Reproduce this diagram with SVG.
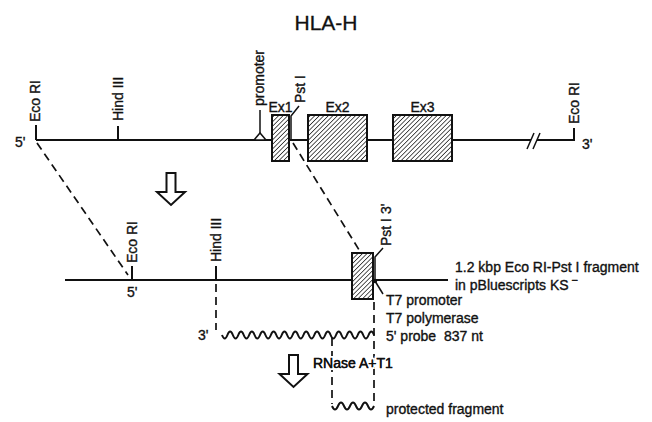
<svg xmlns="http://www.w3.org/2000/svg" width="652" height="422" viewBox="0 0 652 422">
<style>
text{font-family:"Liberation Sans",Arial,sans-serif;font-size:14px;fill:#111;stroke:#111;stroke-width:0.35}
.ln{fill:none;stroke:#111;stroke-width:2}
.thin{fill:none;stroke:#111;stroke-width:1.5}
.dash{fill:none;stroke:#111;stroke-width:1.7;stroke-dasharray:8 5}
.box{fill:url(#hatch);stroke:#111;stroke-width:2}
.arrow{fill:#fff;stroke:#111;stroke-width:2;stroke-linejoin:miter}
.wave{fill:none;stroke:#111;stroke-width:2}
.knock{paint-order:stroke;stroke:#fff;stroke-width:4}
</style>
<defs>
<pattern id="hatch" patternUnits="userSpaceOnUse" width="3.2" height="3.2" patternTransform="rotate(45)">
<rect width="3.2" height="3.2" fill="#fff"/>
<line x1="0" y1="0" x2="0" y2="3.2" stroke="#111" stroke-width="1.4"/>
</pattern>
<polygon id="downArrow" class="arrow" points="-4.5,0 4.5,0 4.5,19 14,19 0,32 -14,19 -4.5,19"/>
</defs>
<rect width="652" height="422" fill="#fff"/>

<text x="326" y="30" text-anchor="middle" style="font-size:21px;stroke-width:0.3">HLA-H</text>

<g id="connectors">
<path class="dash" d="M37,143 L128,275"/>
<path class="dash" d="M293,143 L361,253"/>
<path class="dash" d="M216,284 V330"/>
<path class="dash" d="M374,302 V405"/>
<path class="dash" d="M332,338 V404"/>
</g>

<g id="genomic">
<path class="ln" d="M36,140 H531 M537,140 H574 V128"/>
<path class="thin" d="M527,149 L534,133 M533,149 L540,133"/>
<path class="ln" d="M36,140 V125"/>
<path class="ln" d="M118,140 V126"/>
<path class="thin" d="M260,133 V110"/>
<polygon points="254,140 260,133 266,140" fill="#fff" stroke="#111" stroke-width="1.5"/>
<path class="thin" d="M291,140 V116 L299,106"/>
<text transform="translate(40,122) rotate(-90)">Eco RI</text>
<text transform="translate(123,121) rotate(-90)">Hind III</text>
<text transform="translate(264,106) rotate(-90)">promoter</text>
<text transform="translate(305,103) rotate(-90)">Pst I</text>
<text transform="translate(579,124) rotate(-90)">Eco RI</text>
<text x="15" y="147">5'</text>
<text x="582" y="149">3'</text>
</g>

<g id="ex1">
<rect class="box" x="272" y="115" width="17" height="46"/>
<text x="280.5" y="112" text-anchor="middle">Ex1</text>
</g>
<g id="ex2">
<rect class="box" x="308" y="115" width="59" height="46"/>
<text x="337.5" y="112" text-anchor="middle">Ex2</text>
</g>
<g id="ex3">
<rect class="box" x="393" y="115" width="59" height="46"/>
<text x="422.5" y="112" text-anchor="middle">Ex3</text>
</g>

<g id="arrow1"><use href="#downArrow" transform="translate(171,173)"/></g>

<g id="fragment">
<path class="ln" d="M65,280 H448"/>
<path class="ln" d="M132,280 V266"/>
<path class="ln" d="M216,280 V266"/>
<rect class="box" x="352" y="253" width="21" height="46"/>
<path class="thin" d="M375,280 V257 L383,248"/>
<path class="thin" d="M375,281 L383,294"/>
<circle cx="375" cy="281" r="2.2" fill="#111"/>
<text transform="translate(137,263) rotate(-90)">Eco RI</text>
<text transform="translate(221,262) rotate(-90)">Hind III</text>
<text transform="translate(391,246) rotate(-90)">Pst I  3'</text>
<text x="127" y="297">5'</text>
<text x="455" y="272">1.2 kbp Eco RI-Pst I fragment</text>
<text x="455" y="290">in pBluescripts KS<tspan dx="3" dy="-6" style="font-size:11px">−</tspan></text>
<text x="386" y="305">T7 promoter</text>
<text x="386" y="323">T7 polymerase</text>
</g>

<g id="probe">
<path class="wave" d="M222,335 q2.715,7 5.43,0 t5.43,0 t5.43,0 t5.43,0 t5.43,0 t5.43,0 t5.43,0 t5.43,0 t5.43,0 t5.43,0 t5.43,0 t5.43,0 t5.43,0 t5.43,0 t5.43,0 t5.43,0 t5.43,0 t5.43,0 t5.43,0 t5.43,0 t5.43,0 t5.43,0 t5.43,0 t5.43,0 t5.43,0 t5.43,0 t5.43,0 t5.43,0"/>
<text x="198" y="340">3'</text>
<text x="386" y="341" xml:space="preserve">5' probe  837 nt</text>
</g>

<g id="arrow2"><use href="#downArrow" transform="translate(293.5,355)"/></g>
<text class="knock" x="313" y="368">RNase A+T1</text>
<text x="313" y="368">RNase A+T1</text>

<g id="protected">
<path class="wave" d="M332,406 q3,7 6,0 t6,0 t6,0 t6,0 t6,0 t6,0 t6,0"/>
<text x="386" y="414">protected fragment</text>
</g>
</svg>
